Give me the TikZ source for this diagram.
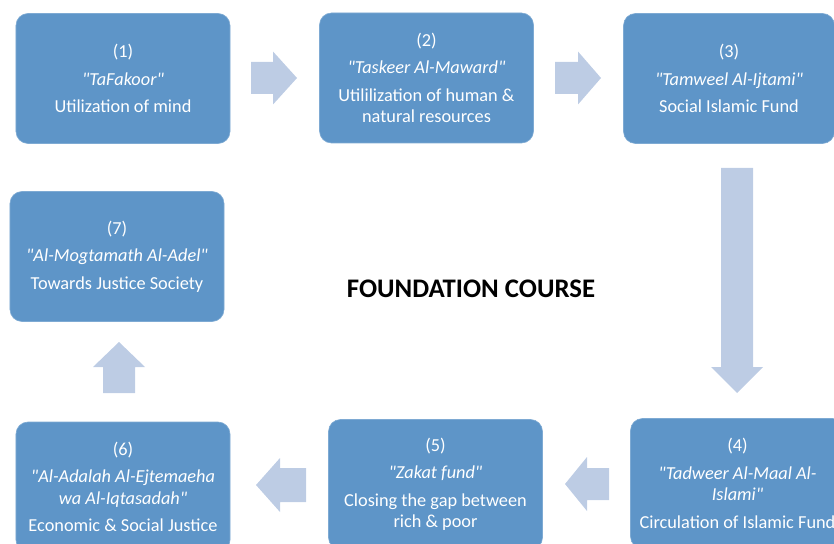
\documentclass[tikz,border=0pt]{standalone}
\usepackage{fontspec}
\setmainfont{Carlito}[Ligatures=TeXOff]
\newcommand\qq{\symbol{34}}
\begin{document}
\definecolor{stepblue}{RGB}{94,149,200}
\definecolor{flowblue}{RGB}{189,204,228}
\begin{tikzpicture}[x=1bp,y=-1bp,
  stepbox/.style={fill=stepblue, draw=stepblue!80!white, line width=0.6bp,
    rounded corners=12bp, minimum width=214bp, minimum height=130bp,
    text=white, align=center, inner sep=0pt,
    font=\fontsize{18.3bp}{21.5bp}\selectfont},
  title/.style={font=\fontsize{26.8bp}{30bp}\selectfont\bfseries, text=black},
  pics/blockarrow/.style n args={4}{code={
    \fill[flowblue] (0,-#3) -- (#1,-#3) -- (#1,-#4) -- (#2,0)
      -- (#1,#4) -- (#1,#3) -- (0,#3) -- cycle;}}
]
\useasboundingbox (0,0) rectangle (834,544);
\clip (0,0) rectangle (834,544);

% process steps
\node[stepbox] (s1) at (123,78.5) {(1)\\[6bp]\textit{\qq TaFakoor\qq}\\[6bp]Utilization of mind};
\node[stepbox] (s2) at (426.5,78) {(2)\\[6bp]\textit{\qq Taskeer Al-Maward\qq}\\[6bp]Utililization of human \&\\natural resources};
\node[stepbox, minimum width=211bp] (s3) at (729,78.5) {(3)\\[6bp]\textit{\qq Tamweel Al-Ijtami\qq}\\[6bp]Social Islamic Fund};
\node[stepbox] (s4) at (737.5,483.5) {(4)\\[6bp]\textit{\qq Tadweer Al-Maal Al-}\\\textit{Islami\qq}\\[6bp]Circulation of Islamic Fund};
\node[stepbox] (s5) at (435.5,484.5) {(5)\\[6bp]\textit{\qq Zakat fund\qq}\\[6bp]Closing the gap between\\rich \& poor};
\node[stepbox] (s6) at (123,487) {(6)\\[6bp]\textit{\qq Al-Adalah Al-Ejtemaeha}\\\textit{wa Al-Iqtasadah\qq}\\[6bp]Economic \& Social Justice};
\node[stepbox] (s7) at (117,256.5) {(7)\\[6bp]\textit{\qq Al-Mogtamath Al-Adel\qq}\\[6bp]Towards Justice Society};

\node[title] (t) at (471,289) {FOUNDATION COURSE};

% block arrows between the steps
\coordinate (a12) at (251,78);
\coordinate (a23) at (555,78);
\coordinate (a34) at (737,168);
\coordinate (a45) at (609,484);
\coordinate (a56) at (306,485);
\coordinate (a67) at (119,393);
\pic at (a12) {blockarrow={22}{46}{16}{26.5}};
\pic at (a23) {blockarrow={23}{46}{16}{26.5}};
\pic[rotate=-90] at (a34) {blockarrow={199}{225}{16}{26}};
\pic[rotate=180] at (a45) {blockarrow={22}{44}{16}{27}};
\pic[rotate=180] at (a56) {blockarrow={26}{50}{17}{27}};
\pic[rotate=90] at (a67) {blockarrow={26}{51}{16}{26}};
\end{tikzpicture}
\end{document}
